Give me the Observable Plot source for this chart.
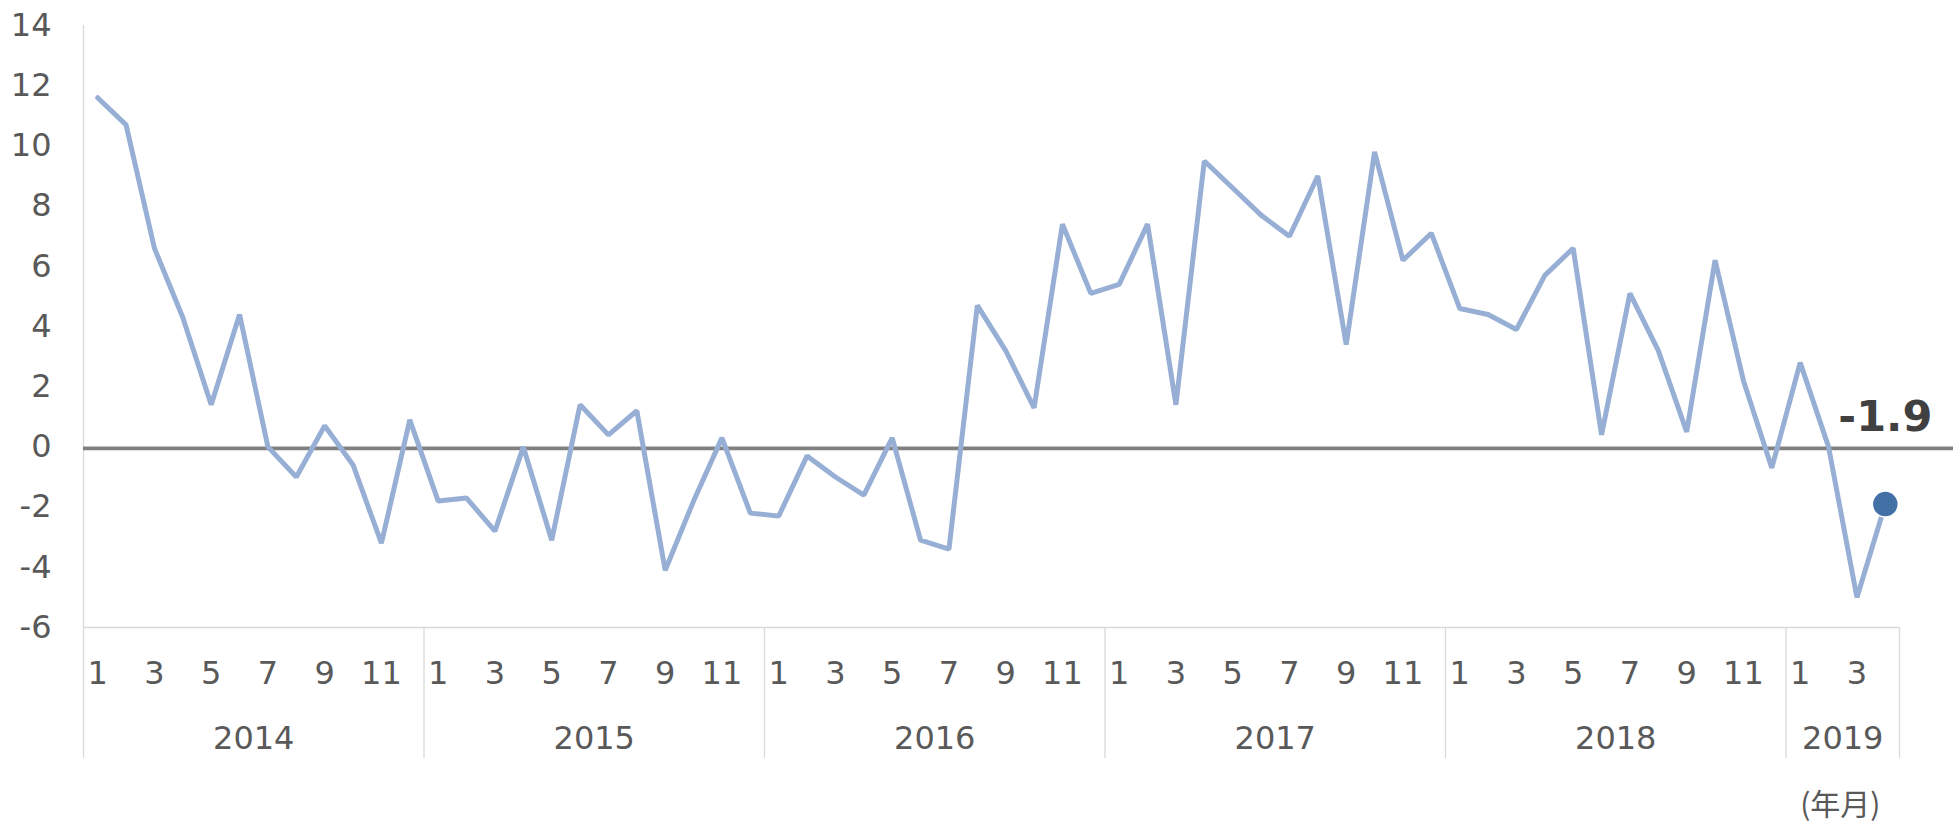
<!DOCTYPE html>
<html>
<head>
<meta charset="utf-8">
<script src="https://cdn.jsdelivr.net/npm/d3@7"></script>
<script src="https://cdn.jsdelivr.net/npm/@observablehq/plot@0.6"></script>
<style>
  html, body { margin: 0; padding: 0; background: #ffffff; }
</style>
</head>
<body>
<div id="chart"></div>
<script>
// ---- data ----
const years = [2014, 2015, 2016, 2017, 2018, 2019];
const values2014 = [11.6, 10.7, 6.6, 4.3, 1.4, 4.4, 0.0, -1.0, 0.7, -0.6, -3.2, 0.9];
const values2015 = [-1.8, -1.7, -2.8, 0.0, -3.1, 1.4, 0.4, 1.2, -4.1, -1.8, 0.3, -2.2];
const values2016 = [-2.3, -0.3, -1.0, -1.6, 0.3, -3.1, -3.4, 4.7, 3.2, 1.3, 7.4, 5.1];
const values2017 = [5.4, 7.4, 1.4, 9.5, 8.6, 7.7, 7.0, 9.0, 3.4, 9.8, 6.2, 7.1];
const values2018 = [4.6, 4.4, 3.9, 5.7, 6.6, 0.4, 5.1, 3.2, 0.5, 6.2, 2.2, -0.7];
const values2019 = [2.8, 0.0, -5.0, -1.9];
const yTicks = [-6, -4, -2, 0, 2, 4, 6, 8, 10, 12, 14];
const unitLabel = "(年月)";

(function () {
// ---- build table ----
const seriesByYear = [values2014, values2015, values2016, values2017, values2018, values2019];
const rows = [];
seriesByYear.forEach((vals, yi) => {
  vals.forEach((v, mi) => rows.push({i: rows.length, year: years[yi], month: mi + 1, v}));
});
const n = rows.length;
const last = rows[n - 1];
const groups = years.map(y => {
  const r = rows.filter(d => d.year === y);
  return {year: y, start: r[0].i - 0.5, end: r[r.length - 1].i + 0.5, mid: (r[0].i + r[r.length - 1].i) / 2};
});
const boundaries = [groups[0].start, ...groups.map(g => g.end)];

// ---- layout ----
const W = 1953, H = 823;
const mLeft = 83, plotRight = 1899, mTop = 25, plotBottom = 627;
const sepBottom = -6 - (758 - plotBottom) / ((plotBottom - mTop) / 20);
const textColor = "#595959";
const lineColor = "#97AFD5";

const chart = Plot.plot({
  width: W,
  height: H,
  marginLeft: mLeft,
  marginRight: 0,
  marginTop: mTop,
  marginBottom: H - plotBottom,
  style: {fontFamily: "'DejaVu Sans', Verdana, sans-serif", fontSize: "32px", color: textColor, background: "#ffffff"},
  x: {type: "linear", domain: [-0.5, n - 0.5], range: [mLeft, plotRight], axis: null},
  y: {domain: [-6, 14], range: [plotBottom, mTop], axis: null},
  marks: [
    Plot.ruleX([boundaries[0]], {y1: 14, y2: sepBottom, stroke: "#d9d9d9", strokeWidth: 1.3}),
    Plot.ruleX(boundaries.slice(1), {y1: -6, y2: sepBottom, stroke: "#d9d9d9", strokeWidth: 1.3}),
    Plot.ruleY([-6], {x1: boundaries[0], x2: boundaries[boundaries.length - 1], stroke: "#d9d9d9", strokeWidth: 1.3}),
    Plot.ruleY([0], {stroke: "#808080", strokeWidth: 3.8, dy: 1.5}),
    Plot.axisY(yTicks, {tickSize: 0, tickPadding: 32, tickFormat: d => String(d), label: null, fontSize: 32, fill: textColor}),
    Plot.text(rows.filter(d => d.month % 2 === 1), {x: "i", frameAnchor: "bottom", text: d => String(d.month), dy: 46, lineAnchor: "middle", fill: textColor, fontSize: 32}),
    Plot.text(groups, {x: "mid", frameAnchor: "bottom", text: d => String(d.year), dy: 111, lineAnchor: "middle", fill: textColor, fontSize: 32}),
    Plot.line(rows, {x: "i", y: "v", stroke: lineColor, strokeWidth: 5, strokeLinejoin: "miter", strokeLinecap: "round"}),
    Plot.dot([last], {x: "i", y: "v", r: 13, fill: "#4371A6", stroke: "#ffffff", strokeWidth: 1.5}),
    Plot.text([last], {x: "i", y: "v", text: d => d.v.toFixed(1), dy: -87, lineAnchor: "middle", fontWeight: "bold", fontSize: 43, fill: "#404040"}),
    Plot.text([unitLabel], {frameAnchor: "bottom-right", text: d => d, dx: -73, dy: 178, textAnchor: "end", lineAnchor: "middle", fontSize: 30, fill: textColor, fontFamily: "'Noto Sans CJK JP', sans-serif"})
  ]
});
document.getElementById("chart").appendChild(chart);
})();
</script>
</body>
</html>
